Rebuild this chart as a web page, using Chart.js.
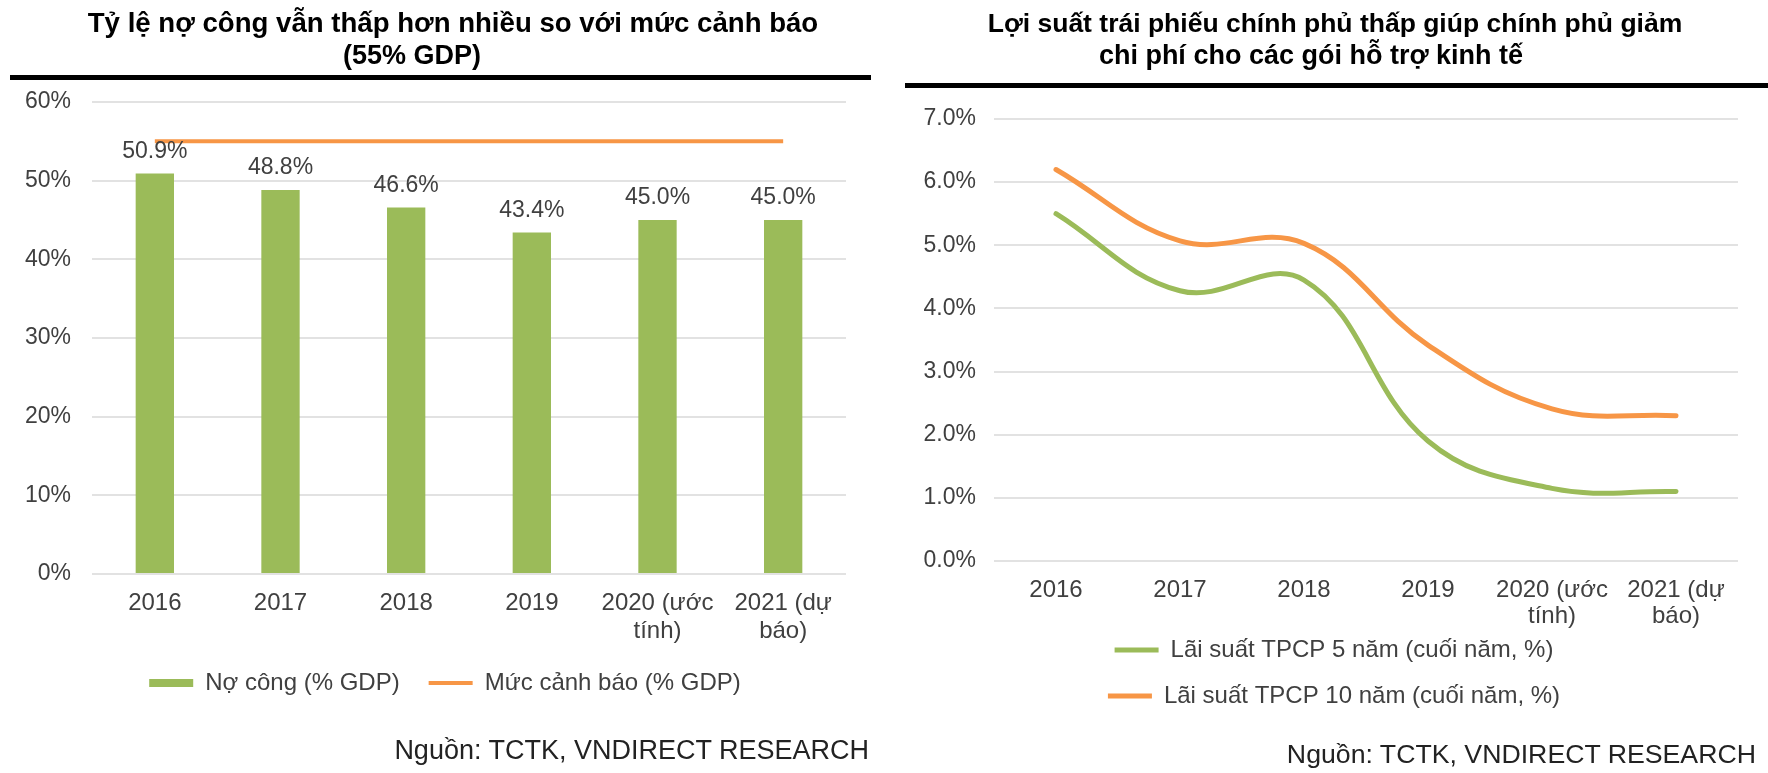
<!DOCTYPE html>
<html lang="vi">
<head>
<meta charset="utf-8">
<title>Nợ công và lợi suất TPCP</title>
<script src="https://cdn.jsdelivr.net/npm/chart.js@4.4.1/dist/chart.umd.min.js"></script>
<style>
  html, body { margin: 0; padding: 0; background: #ffffff; }
  body { width: 1768px; height: 773px; position: relative; overflow: hidden;
         font-family: "Liberation Sans", Arial, sans-serif; }
  canvas { position: absolute; top: 0; }
  #leftChart { left: 0; }
  #rightChart { left: 884px; }
  .title { position: absolute; width: 900px; text-align: center; font-weight: bold;
           font-size: 27px; line-height: 33px; color: #000; white-space: nowrap; }
  .rule { position: absolute; height: 5px; background: #000; }
  .source { position: absolute; width: 700px; text-align: right; font-size: 27px;
            line-height: 31px; color: #222; white-space: nowrap; }
</style>
</head>
<body>
<canvas id="leftChart" width="884" height="773"></canvas>
<canvas id="rightChart" width="884" height="773"></canvas>

<div class="title" style="left:3px; top:6px; font-size:27.6px;">Tỷ lệ nợ công vẫn thấp hơn nhiều so với mức cảnh báo</div>
<div class="title" style="left:-38px; top:39px;">(55% GDP)</div>
<div class="rule" style="left:10px; top:75px; width:861px;"></div>
<div class="source" style="left:169px; top:735px;">Nguồn: TCTK, VNDIRECT RESEARCH</div>

<div class="title" style="left:885px; top:7px; font-size:26.5px;">Lợi suất trái phiếu chính phủ thấp giúp chính phủ giảm</div>
<div class="title" style="left:861px; top:39px;">chi phí cho các gói hỗ trợ kinh tế</div>
<div class="rule" style="left:905px; top:83px; width:863px;"></div>
<div class="source" style="left:1056px; top:739px; font-size:26.7px;">Nguồn: TCTK, VNDIRECT RESEARCH</div>

<script>
// ---------- data ----------
const categories = ['2016', '2017', '2018', '2019', ['2020 (ước', 'tính)'], ['2021 (dự', 'báo)']];

const publicDebt = [50.9, 48.8, 46.6, 43.4, 45.0, 45.0];     // Nợ công (% GDP)
const warningLevel = [55, 55, 55, 55, 55, 55];               // Mức cảnh báo (% GDP)
const debtTickLabels = ['0%', '10%', '20%', '30%', '40%', '50%', '60%'];

const yield5y = [5.5, 4.28, 4.45, 1.9, 1.15, 1.1];           // Lãi suất TPCP 5 năm
const yield10y = [6.2, 5.07, 5.03, 3.42, 2.41, 2.3];         // Lãi suất TPCP 10 năm
const yieldTickLabels = ['0.0%', '1.0%', '2.0%', '3.0%', '4.0%', '5.0%', '6.0%', '7.0%'];

const seriesNames = {
  debt: 'Nợ công (% GDP)',
  warn: 'Mức cảnh báo (% GDP)',
  y5: 'Lãi suất TPCP 5 năm (cuối năm, %)',
  y10: 'Lãi suất TPCP 10 năm (cuối năm, %)'
};

// ---------- styles ----------
const GREEN = '#9BBB59';
const ORANGE = '#F79646';
const TEXT = '#404040';
const GRID = '#E2E2E2';
const FONT = '"Liberation Sans", Arial, sans-serif';

Chart.defaults.font.family = FONT;
Chart.defaults.color = TEXT;

// value labels above the bars, placed from the bar elements computed by the library
const barValueLabels = {
  id: 'barValueLabels',
  afterDatasetsDraw(chart) {
    const meta = chart.getDatasetMeta(0);
    const ctx = chart.ctx;
    ctx.save();
    ctx.font = '23px ' + FONT;
    ctx.fillStyle = TEXT;
    ctx.textAlign = 'center';
    ctx.textBaseline = 'middle';
    meta.data.forEach((bar, i) => {
      ctx.fillText(publicDebt[i].toFixed(1) + '%', bar.x, bar.y - 22);
    });
    ctx.restore();
  }
};

// nudges the legend box after the layout pass
const legendOffset = {
  id: 'legendOffset',
  afterLayout(chart, args, opts) {
    const lg = chart.legend;
    if (!lg) return;
    const dx = opts.dx || 0, dy = opts.dy || 0;
    lg.left += dx; lg.right += dx;
    lg.top += dy; lg.bottom += dy;
  }
};

// ---------- left chart ----------
new Chart(document.getElementById('leftChart'), {
  data: {
    labels: categories,
    datasets: [
      {
        type: 'bar',
        label: seriesNames.debt,
        data: publicDebt,
        backgroundColor: GREEN,
        borderWidth: 0,
        categoryPercentage: 1,
        barPercentage: 0.305,
        pointStyle: 'rect'
      },
      {
        type: 'line',
        label: seriesNames.warn,
        data: warningLevel,
        borderColor: ORANGE,
        backgroundColor: ORANGE,
        borderWidth: 4,
        pointRadius: 0,
        pointHoverRadius: 0,
        pointStyle: 'line',
        borderCapStyle: 'butt',
        fill: false
      }
    ]
  },
  options: {
    responsive: false,
    animation: false,
    layout: { padding: { left: 0, right: 38, top: 102, bottom: 61 } },
    scales: {
      x: {
        offset: true,
        grid: { display: false, drawTicks: false },
        border: { display: false },
        ticks: { font: { size: 24, lineHeight: 1.15 }, color: TEXT, padding: 16, maxRotation: 0, autoSkip: false },
        afterFit: (s) => { s.height = 75; }
      },
      y: {
        min: 0, max: 60,
        grid: { color: GRID, lineWidth: 2, drawTicks: false },
        border: { display: false },
        ticks: {
          stepSize: 10, padding: 21, font: { size: 23 }, color: TEXT,
          callback: (v, i) => debtTickLabels[i]
        },
        afterFit: (s) => { s.width = 92; }
      }
    },
    plugins: {
      legend: {
        position: 'bottom',
        labels: {
          usePointStyle: true,
          pointStyleWidth: 44,
          boxHeight: 8,
          padding: 29,
          font: { size: 24 },
          color: TEXT,
          sort: (a, b) => a.datasetIndex - b.datasetIndex
        }
      },
      legendOffset: { dx: 22, dy: -7 },
      tooltip: { enabled: false }
    }
  },
  plugins: [barValueLabels, legendOffset]
});

// ---------- right chart ----------
new Chart(document.getElementById('rightChart'), {
  type: 'line',
  data: {
    labels: categories,
    datasets: [
      {
        label: seriesNames.y5,
        data: yield5y,
        borderColor: GREEN,
        backgroundColor: GREEN,
        borderWidth: 5,
        tension: 0.4,
        pointRadius: 0,
        pointHoverRadius: 0,
        pointStyle: 'line',
        borderCapStyle: 'round',
        fill: false
      },
      {
        label: seriesNames.y10,
        data: yield10y,
        borderColor: ORANGE,
        backgroundColor: ORANGE,
        borderWidth: 5,
        tension: 0.4,
        pointRadius: 0,
        pointHoverRadius: 0,
        pointStyle: 'line',
        borderCapStyle: 'round',
        fill: false
      }
    ]
  },
  options: {
    responsive: false,
    animation: false,
    layout: { padding: { left: 0, right: 30, top: 119, bottom: 35 } },
    scales: {
      x: {
        offset: true,
        grid: { display: false, drawTicks: false },
        border: { display: false },
        ticks: { font: { size: 24, lineHeight: 1.1 }, color: TEXT, padding: 16, maxRotation: 0, autoSkip: false },
        afterFit: (s) => { s.height = 75; }
      },
      y: {
        min: 0, max: 7,
        grid: { color: GRID, lineWidth: 2, drawTicks: false },
        border: { display: false },
        ticks: {
          stepSize: 1, padding: 18, font: { size: 23 }, color: TEXT,
          callback: (v, i) => yieldTickLabels[i]
        },
        afterFit: (s) => { s.width = 110; }
      }
    },
    plugins: {
      legend: {
        position: 'bottom',
        labels: {
          usePointStyle: true,
          pointStyleWidth: 44,
          boxHeight: 8,
          padding: 22,
          font: { size: 24 },
          color: TEXT
        }
      },
      legendOffset: { dx: 23, dy: -20 },
      tooltip: { enabled: false }
    }
  },
  plugins: [legendOffset]
});
</script>
</body>
</html>
